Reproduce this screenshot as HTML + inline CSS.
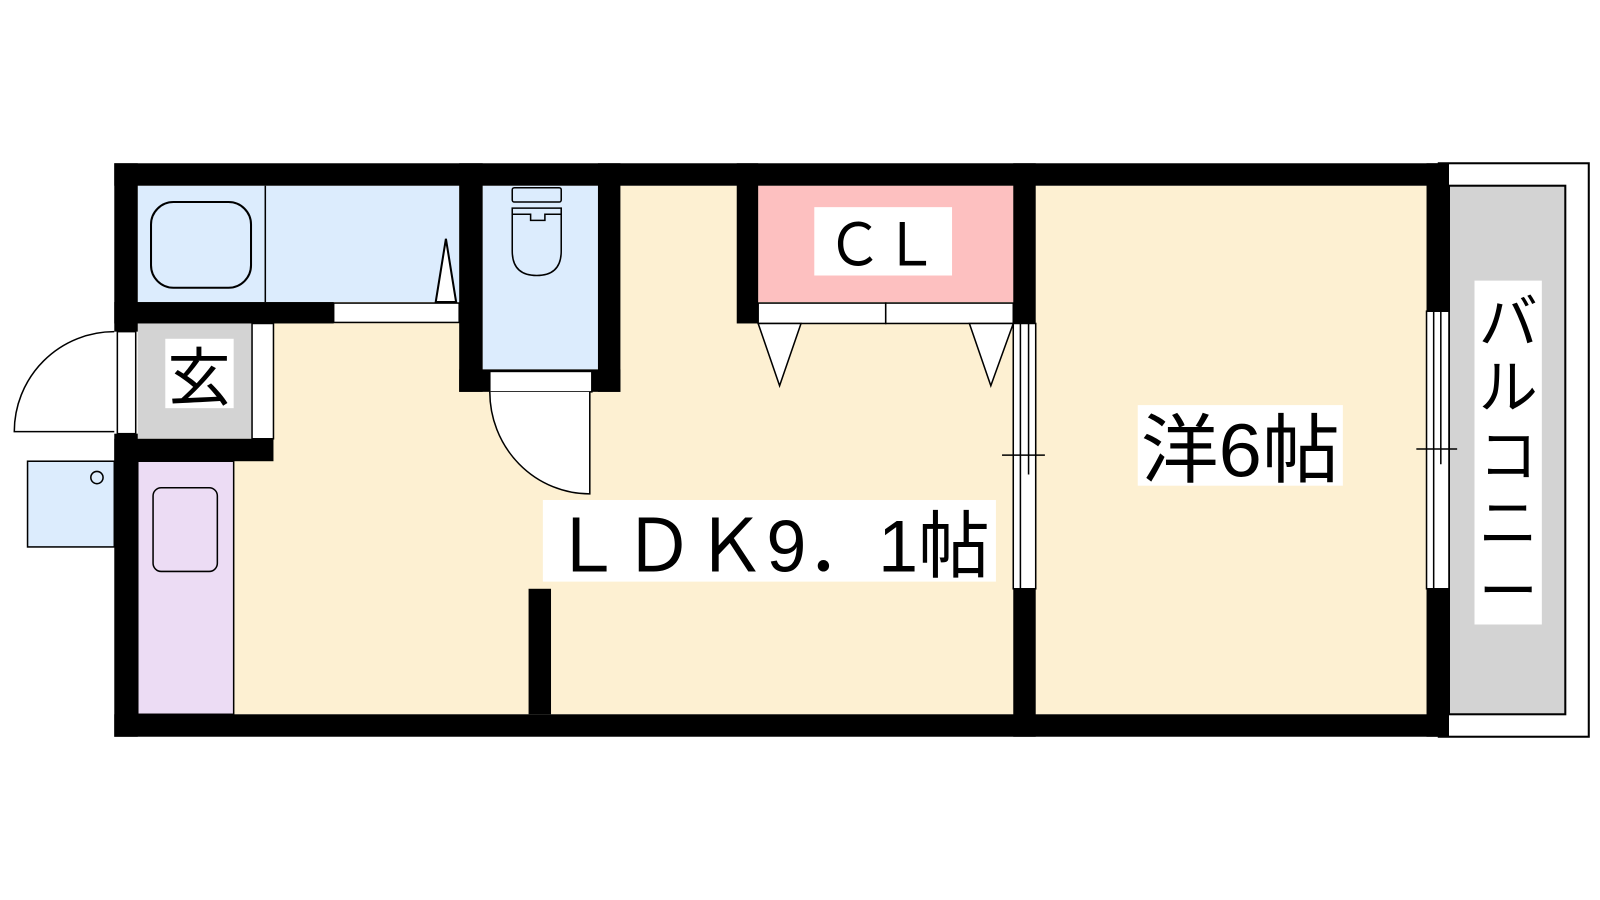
<!DOCTYPE html>
<html><head><meta charset="utf-8"><style>html,body{margin:0;padding:0;background:#fff}svg{display:block}</style></head>
<body>
<svg width="1600" height="900" viewBox="0 0 1568 882" preserveAspectRatio="none" xmlns="http://www.w3.org/2000/svg" font-family="'Liberation Sans','Noto Sans CJK JP',sans-serif">
<!-- balcony -->
<rect x="1410" y="160" width="147" height="562" fill="#fff" stroke="#000" stroke-width="2"/>
<rect x="1420" y="182" width="114" height="518" fill="#d3d3d3" stroke="#000" stroke-width="2"/>
<!-- floors -->
<rect x="135" y="182" width="1263" height="518" fill="#fdf0d2"/>
<rect x="135" y="182" width="315" height="114" fill="#dcecfd"/>
<line x1="260" y1="182" x2="260" y2="296" stroke="#000" stroke-width="1.5"/>
<rect x="148" y="198" width="98" height="84" rx="22" fill="none" stroke="#000" stroke-width="2"/>
<polygon points="427,296 437,234 447,296" fill="#fff" stroke="#000" stroke-width="2"/>
<rect x="473" y="182" width="113" height="180" fill="#dcecfd"/>
<rect x="502" y="184" width="48" height="14" rx="2" fill="none" stroke="#000" stroke-width="1.5"/>
<path d="M502 204 H550 V246 Q550 270 526 270 Q502 270 502 246 Z" fill="none" stroke="#000" stroke-width="1.5"/>
<path d="M502 210 H520 V216 H534 V210 H550" fill="none" stroke="#000" stroke-width="1.5"/>
<rect x="135" y="317" width="112" height="113" fill="#d3d3d3"/>
<rect x="247" y="317" width="21" height="113" fill="#fff" stroke="#000" stroke-width="1.5"/>
<rect x="135" y="452" width="94" height="248" fill="#ecdcf4" stroke="#000" stroke-width="1.5"/>
<rect x="150" y="478" width="63" height="82" rx="8" fill="none" stroke="#000" stroke-width="1.5"/>
<rect x="27" y="452" width="85" height="84" fill="#dcecfd" stroke="#000" stroke-width="1.5"/>
<circle cx="95" cy="468" r="6" fill="none" stroke="#000" stroke-width="1.5"/>
<rect x="743" y="182" width="250" height="114" fill="#fdc0c0"/>
<!-- walls -->
<g fill="#000">
<rect x="112" y="160" width="1308" height="22"/>
<rect x="112" y="700" width="1308" height="22"/>
<rect x="112" y="160" width="23" height="165"/>
<rect x="112" y="425" width="23" height="297"/>
<rect x="112" y="296" width="215" height="21"/>
<rect x="112" y="430" width="156" height="22"/>
<rect x="450" y="160" width="23" height="224"/>
<rect x="586" y="160" width="22" height="224"/>
<rect x="450" y="362" width="158" height="22"/>
<rect x="518" y="577" width="22" height="123"/>
<rect x="722" y="160" width="21" height="157"/>
<rect x="993" y="160" width="22" height="157"/>
<rect x="993" y="577" width="22" height="145"/>
<rect x="1398" y="160" width="22" height="145"/>
<rect x="1398" y="577" width="22" height="145"/>
</g>
<!-- doors -->
<g fill="#fff" stroke="#000" stroke-width="1.5">
<rect x="327" y="297" width="123" height="19"/>
<rect x="115" y="325" width="18" height="100"/>
<path d="M112 325 A98 98 0 0 0 14 423 H112" />
<rect x="480" y="364" width="100" height="20"/>
<path d="M480 384 A98 100 0 0 0 578 484 V384"/>
<rect x="743" y="297" width="125" height="20"/>
<rect x="868" y="297" width="125" height="20"/>
<polygon points="743,317 785,317 764,378"/>
<polygon points="950,317 993,317 971,378"/>
<rect x="993" y="317" width="22" height="260"/>
<rect x="1398" y="305" width="22" height="272"/>
</g>
<g stroke="#000" stroke-width="1.5">
<line x1="1000" y1="317" x2="1000" y2="577"/><line x1="1008" y1="317" x2="1008" y2="465"/>
<line x1="982" y1="446" x2="1024" y2="446"/><line x1="1000" y1="446" x2="1000" y2="446"/>
<line x1="1405" y1="305" x2="1405" y2="577"/><line x1="1412" y1="305" x2="1412" y2="455"/>
<line x1="1388" y1="440" x2="1428" y2="440"/>
</g>
<!-- labels -->
<rect x="798" y="203" width="135" height="67" fill="#fff"/>
<text x="865" y="260" font-size="58" text-anchor="middle" textLength="110" lengthAdjust="spacingAndGlyphs">ＣＬ</text>
<rect x="162" y="332" width="67" height="68" fill="#fff"/>
<text x="195" y="392" font-size="62" text-anchor="middle">玄</text>
<rect x="532" y="490" width="444" height="80" fill="#fff"/>
<text x="540" y="560" font-size="72" textLength="430" lengthAdjust="spacingAndGlyphs">ＬＤＫ9．1帖</text>
<rect x="1115" y="397" width="201" height="79" fill="#fff"/>
<text x="1118" y="467" font-size="74" textLength="195" lengthAdjust="spacingAndGlyphs">洋6帖</text>
<rect x="1445" y="275" width="66" height="337" fill="#fff"/>
<g font-size="58" text-anchor="middle">
<text x="1478" y="336">バ</text><text x="1478" y="400">ル</text><text x="1478" y="467">コ</text><text x="1478" y="533">ニ</text><text x="1478" y="600">ー</text>
</g>
</svg>
</body></html>
